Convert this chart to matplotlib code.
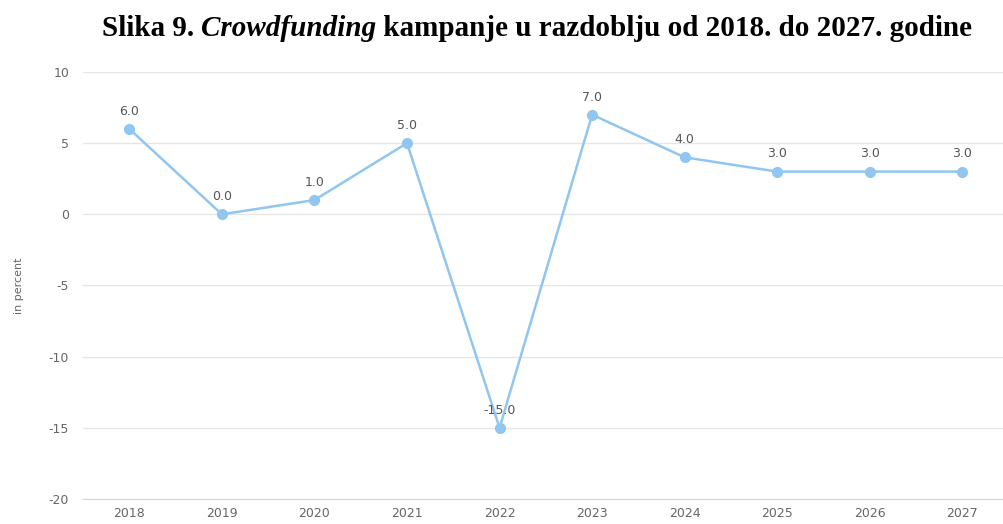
import matplotlib
matplotlib.use('Agg')
import matplotlib.pyplot as plt

plt.rcParams['axes.unicode_minus'] = False

years = ['2018', '2019', '2020', '2021', '2022', '2023', '2024', '2025', '2026', '2027']
values = [6.0, 0.0, 1.0, 5.0, -15.0, 7.0, 4.0, 3.0, 3.0, 3.0]
yticks = [-20, -15, -10, -5, 0, 5, 10]

line_color = '#90c6ef'
text_gray = '#666666'

fig = plt.figure(figsize=(10.04, 5.24), dpi=100)
ax = fig.add_axes([0.0827, 0.0477, 0.9173, 0.815])

xs = list(range(len(years)))
ax.plot(xs, values, color=line_color, lw=1.8, marker='o', ms=7, zorder=3)
for x, v in zip(xs, values):
    ax.annotate(f'{v:.1f}', (x, v), xytext=(0, 8), textcoords='offset points',
                ha='center', va='bottom', fontsize=9, color='#555555', zorder=4)

ax.set_xlim(-0.5, 9.45)
ax.set_ylim(-20, 10)
ax.set_yticks(yticks)
ax.set_xticks(xs)
ax.set_xticklabels(years)
ax.tick_params(axis='both', length=0, labelsize=9, labelcolor=text_gray)
ax.tick_params(axis='y', pad=10)
ax.tick_params(axis='x', pad=6)
ax.grid(axis='y', color='#e6e6e6', lw=1)
ax.set_axisbelow(True)
for s in ['top', 'right', 'left']:
    ax.spines[s].set_visible(False)
ax.spines['bottom'].set_color('#ccd6eb')
ax.set_ylabel('in percent', fontsize=8, color=text_gray, labelpad=18)

# title with an italic word in the middle
parts = [('Slika 9. ', 'normal'), ('Crowdfunding', 'italic'),
         (' kampanje u razdoblju od 2018. do 2027. godine', 'normal')]
fig.canvas.draw()
r = fig.canvas.get_renderer()
objs = []
for txt, st in parts:
    t = fig.text(0, 0.945, txt, fontsize=21, fontweight='bold', style=st,
                 family='Liberation Serif', va='center', ha='left')
    objs.append(t)
widths = [t.get_window_extent(r).width for t in objs]
total = sum(widths)
x0 = 537 - total / 2
for t, w in zip(objs, widths):
    t.set_x(x0 / 1004)
    x0 += w

fig.savefig('out.png', dpi=100)
